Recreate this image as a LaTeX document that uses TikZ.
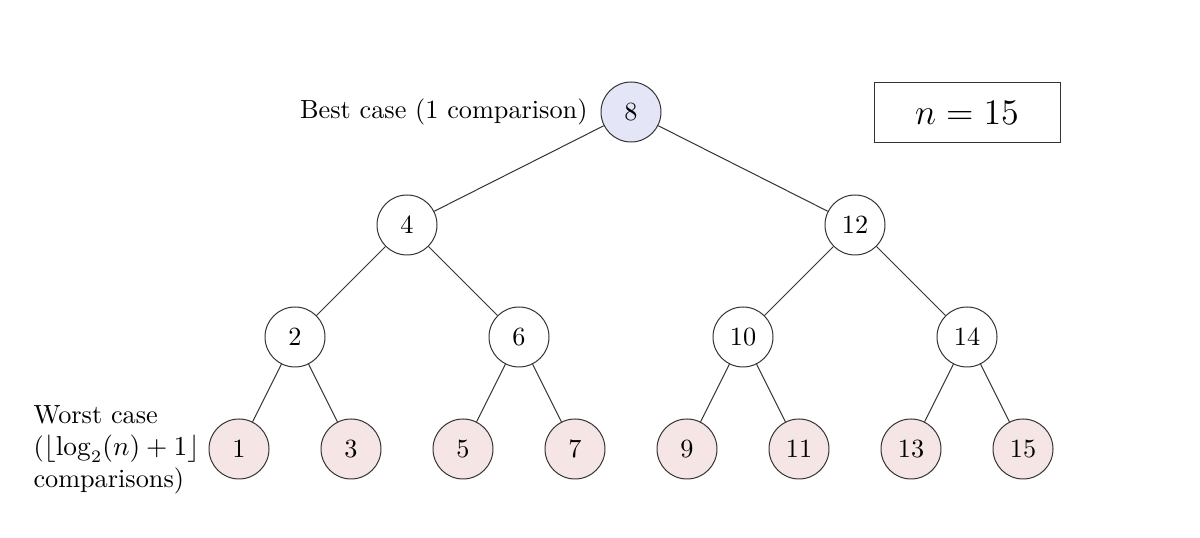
\documentclass[tikz,border=0pt]{standalone}
\definecolor{bestfill}{RGB}{229,229,248}
\definecolor{worstfill}{RGB}{246,229,229}
\begin{document}
\begin{tikzpicture}[x=0.4pt,y=-0.4pt,
  every node/.style={font=\fontsize{10.5}{12.8}\selectfont},
  nd/.style={circle,draw=black!80,line width=0.4pt,minimum size=24pt,inner sep=0pt},
  best/.style={nd,fill=bestfill},
  worst/.style={nd,fill=worstfill},
  edge/.style={draw=black!80,line width=0.4pt}]
\useasboundingbox (0,0) rectangle (1200,538);
\node[best] (n8) at (631,112) {8};
\node[nd] (n4) at (407,225) {4};
\node[nd] (n12) at (855,225) {12};
\node[nd] (n2) at (295,337) {2};
\node[nd] (n6) at (519,337) {6};
\node[nd] (n10) at (743,337) {10};
\node[nd] (n14) at (967,337) {14};
\node[worst] (n1) at (239,449) {1};
\node[worst] (n3) at (351,449) {3};
\node[worst] (n5) at (463,449) {5};
\node[worst] (n7) at (575,449) {7};
\node[worst] (n9) at (687,449) {9};
\node[worst] (n11) at (799,449) {11};
\node[worst] (n13) at (911,449) {13};
\node[worst] (n15) at (1023,449) {15};
\foreach \a/\b in {n8/n4,n8/n12,n4/n2,n4/n6,n12/n10,n12/n14,n2/n1,n2/n3,n6/n5,n6/n7,n10/n9,n10/n11,n14/n13,n14/n15}
  \draw[edge] (\a) -- (\b);
\node[anchor=east,inner sep=0pt] (bl) at (588,112) {Best case (1 comparison)};
\node[anchor=west,align=left,inner sep=0pt] (wl) at (33,450) {Worst case\\($\lfloor\log_2(n)+1\rfloor$\\comparisons)};
\node[draw=black!80,line width=0.4pt,minimum width=74.4pt,minimum height=24pt,font=\fontsize{14.8}{17}\selectfont] (nb) at (967,113) {$n=15$};
\end{tikzpicture}
\end{document}
